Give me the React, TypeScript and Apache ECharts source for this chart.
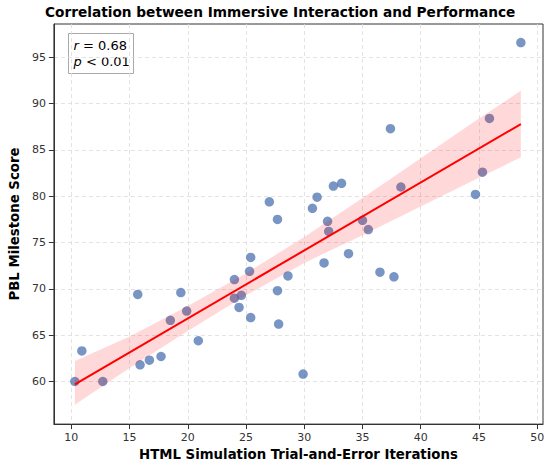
import React, { useEffect, useRef } from "react";
import * as echarts from "echarts";

const xs = [10.3, 10.9, 12.7, 15.7, 15.9, 16.7, 17.7, 18.5, 19.4, 19.9, 20.9, 24.0, 24.0, 24.4, 24.6, 25.4, 25.3, 25.4, 27.7, 27.8, 28.6, 29.9, 31.7, 33.8, 36.5, 37.7, 30.7, 31.1, 32.5, 33.2, 32.0, 32.1, 35.0, 35.5, 37.4, 38.3, 44.7, 45.3, 45.9, 48.6, 27.0, 27.7];
const ys = [60.0, 63.3, 60.0, 69.4, 61.8, 62.3, 62.7, 66.6, 69.6, 67.6, 64.4, 71.0, 69.0, 68.0, 69.3, 73.4, 71.9, 66.9, 69.8, 66.2, 71.4, 60.8, 72.8, 73.8, 71.8, 71.3, 78.7, 79.9, 81.1, 81.4, 77.3, 76.2, 77.4, 76.4, 87.3, 81.0, 80.2, 82.6, 88.4, 96.6, 79.4, 77.5];

const fitX = [10.3, 48.6];
const fitY = [59.7, 87.8];

const bandX = [10.3, 15, 20, 25, 30, 35, 40, 45, 48.6];
const bandLower = [57.5, 61.45, 65.45, 69.3, 72.8, 75.8, 78.9, 82.0, 84.2];
const bandUpper = [62.2, 64.85, 68.15, 71.7, 75.6, 79.8, 84.1, 88.4, 91.4];

const xTicks = [10, 15, 20, 25, 30, 35, 40, 45, 50];
const yTicks = [60, 65, 70, 75, 80, 85, 90, 95];

const TITLE = "Correlation between Immersive Interaction and Performance";
const X_NAME = "HTML Simulation Trial-and-Error Iterations";
const Y_NAME = "PBL Milestone Score";
const STAT_R = "0.68";
const STAT_P = "0.01";

const FONT = "DejaVu Sans";

export default function App() {
  const ref = useRef<HTMLDivElement>(null);
  useEffect(() => {
    document.body.style.margin = "0";
    if (!ref.current) return;
    const chart = echarts.init(ref.current, null, { renderer: "svg" });
    const axisCommon = {
      type: "value",
      minInterval: 5,
      maxInterval: 5,
      axisLine: { show: true, lineStyle: { color: "#333", width: 1 } },
      splitLine: { show: true, lineStyle: { color: "#dcdcdc", width: 0.8, type: [4, 3] } },
      nameTextStyle: { fontFamily: FONT, fontSize: 13.3, fontWeight: "bold", color: "#000" },
    };
    const tickStyle = (vals: number[]) => ({
      show: true,
      inside: false,
      length: 5,
      customValues: vals,
      lineStyle: { color: "#333", width: 1 },
    });
    const labelStyle = (vals: number[], margin: number) => ({
      fontFamily: FONT,
      fontSize: 11,
      color: "#333",
      margin,
      customValues: vals,
      formatter: (v: number) => String(v),
    });
    chart.setOption({
      animation: false,
      grid: { left: 48, right: 7, top: 24, bottom: 40, show: true, borderColor: "#333", borderWidth: 1, backgroundColor: "transparent" },
      graphic: [
        {
          type: "text",
          left: 45,
          top: 5,
          style: { text: TITLE, x: 0, y: 0, fontFamily: FONT, fontSize: 13.7, fontWeight: "bold", fill: "#000" },
        },
        {
          type: "group",
          left: 68,
          top: 33,
          z: 100,
          children: [
            {
              type: "rect",
              shape: { x: 0, y: 0, width: 65, height: 40 },
              style: { fill: "#fff", stroke: "#aaa", lineWidth: 1 },
            },
            {
              type: "text",
              x: 5,
              y: 4,
              style: {
                text: "{i|r} = " + STAT_R + "\n{i|p} < " + STAT_P,
                fontFamily: FONT,
                fontSize: 13,
                lineHeight: 16,
                fill: "#000",
                rich: { i: { fontStyle: "italic", fontFamily: FONT, fontSize: 13, fill: "#000" } },
              },
            },
          ],
        },
      ],
      xAxis: {
        ...axisCommon,
        min: 8.5,
        max: 50.5,
        name: X_NAME,
        nameLocation: "middle",
        nameGap: 23,
        axisTick: tickStyle(xTicks),
        axisLabel: labelStyle(xTicks, 8),
      },
      yAxis: {
        ...axisCommon,
        min: 55.4,
        max: 98.6,
        name: Y_NAME,
        nameLocation: "middle",
        nameGap: 28,
        axisTick: tickStyle(yTicks),
        axisLabel: labelStyle(yTicks, 8),
      },
      series: [
        {
          type: "scatter",
          data: xs.map((x, i) => [x, ys[i]]),
          symbolSize: 9.5,
          itemStyle: { color: "#4c72b0", opacity: 0.75 },
          z: 2,
        },
        {
          type: "custom",
          silent: true,
          z: 3,
          data: [[bandX[0], bandLower[0]]],
          renderItem: (_params: any, api: any) => {
            const pts: number[][] = [];
            bandX.forEach((x, i) => pts.push(api.coord([x, bandUpper[i]])));
            for (let i = bandX.length - 1; i >= 0; i--) pts.push(api.coord([bandX[i], bandLower[i]]));
            return { type: "polygon", shape: { points: pts }, style: { fill: "rgba(255,0,0,0.15)" } };
          },
        },
        {
          type: "line",
          data: fitX.map((x, i) => [x, fitY[i]]),
          showSymbol: false,
          symbol: "none",
          lineStyle: { color: "#ff0000", width: 2 },
          z: 4,
        },
      ],
    });
    return () => chart.dispose();
  }, []);
  return <div ref={ref} style={{ width: 550, height: 466 }} />;
}
